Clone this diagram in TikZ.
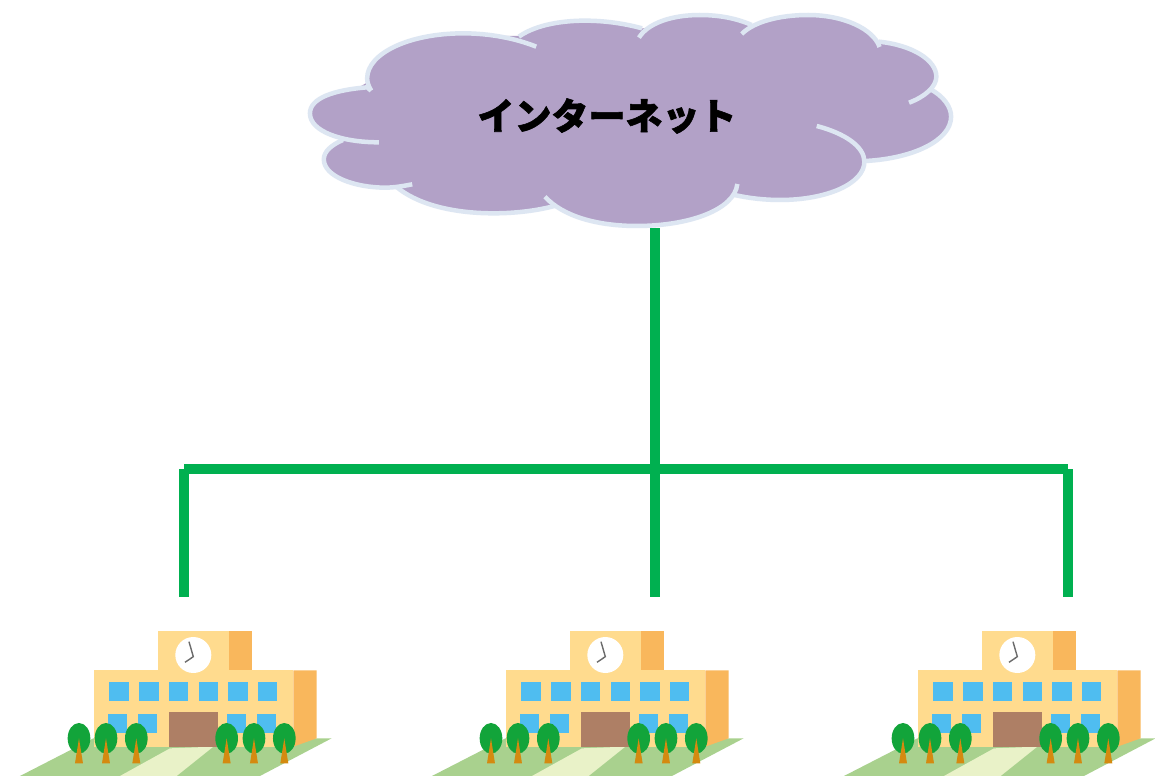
\documentclass[tikz,border=0pt]{standalone}
\usepackage{fontspec}
\newfontfamily\cjk[FakeBold=1.5]{Noto Sans CJK JP Black}
\definecolor{cloudfill}{HTML}{B2A1C7}
\definecolor{cloudline}{HTML}{DDE6F2}
\definecolor{wire}{HTML}{00B050}
\definecolor{ground}{HTML}{A9D18E}
\definecolor{pathc}{HTML}{E9F2C8}
\definecolor{wall}{HTML}{FFDB8E}
\definecolor{sidewall}{HTML}{F9B75C}
\definecolor{glass}{HTML}{4FBDF0}
\definecolor{doorc}{HTML}{AE7F65}
\definecolor{leaf}{HTML}{12A43A}
\definecolor{trunk}{HTML}{D48A10}
\definecolor{hand}{HTML}{6B6B6B}
\tikzset{
  arcline/.style={draw=cloudline,line width=4.5pt,line cap=butt},
  lobefill/.style={fill=cloudfill,draw=cloudfill,line width=1.5pt},
  wireline/.style={draw=wire,line width=10pt,line cap=butt},
  pane/.style={fill=glass},
}
\newcommand{\lobes}[1]{%
  \path[#1] (187,272) -- (178,262) .. controls (100,270) and (46,295) .. (46,340) .. controls (46,395) and (120,427) .. (205,427);
  \path[#1] (122,420) .. controls (95,435) and (78,455) .. (78,478) .. controls (78,530) and (150,563) .. (220,563) .. controls (240,563) and (262,558) .. (282,553);
  \path[#1] (245,560) .. controls (290,610) and (370,640) .. (470,640) .. controls (520,640) and (570,632) .. (610,618);
  \path[#1] (588,590) .. controls (630,650) and (710,678) .. (800,678) .. controls (920,678) and (1025,630) .. (1032,552);
  \path[#1] (1025,585) .. controls (1060,595) and (1095,600) .. (1130,600) .. controls (1240,600) and (1325,550) .. (1325,485) .. controls (1325,440) and (1280,400) .. (1215,378);
  \path[#1] (1328,483) .. controls (1440,475) and (1525,420) .. (1525,350) .. controls (1525,320) and (1508,290) .. (1478,268);
  \path[#1] (1428,308) .. controls (1465,290) and (1491,260) .. (1491,230) .. controls (1491,180) and (1435,135) .. (1358,125);
  \path[#1] (1360,141) .. controls (1345,85) and (1275,45) .. (1195,45) .. controls (1130,45) and (1070,65) .. (1042,102);
  \path[#1] (1065,75) .. controls (1030,55) and (990,45) .. (945,45) .. controls (880,45) and (825,70) .. (805,113);
  \path[#1] (812,85) .. controls (770,70) and (725,62) .. (680,62) .. controls (615,62) and (560,80) .. (528,110);
  \path[#1] (568,140) .. controls (520,115) and (460,100) .. (400,100) .. controls (275,100) and (178,160) .. (178,235) .. controls (178,245) and (180,255) .. (187,272);
}
\newcommand{\schoolat}[1]{%
\begin{scope}[shift={(#1,610)},x=0.3333pt,y=-0.3333pt]
  \fill[ground] (60,498) -- (280,385) -- (995,385) -- (780,498) -- cycle;
  \fill[pathc] (360,498) -- (510,415) -- (640,410) -- (530,498) -- cycle;
  \fill[wall] (282,181) rectangle (880,410);
  \fill[sidewall] (880,181) -- (950,181) -- (950,385) -- (880,410) -- cycle;
  \fill[wall] (475,63) rectangle (687,181);
  \fill[sidewall] (687,63) rectangle (757,181);
  \fill[white] (580,135) circle[x radius=54,y radius=54];
  \draw[hand,line width=1.4pt] (567,95) -- (580,140) -- (555,157);
  \foreach \wx in {328,418,507,596,685,774}
    \fill[pane] (\wx,215) rectangle +(58,57);
  \foreach \wx in {324,414,680,770}
    \fill[pane] (\wx,312) rectangle +(58,58);
  \fill[doorc] (506,305) rectangle (654,410);
  \foreach \tx in {237,318,409,680,762,853}{
    \fill[leaf] (\tx,385) ellipse[x radius=34,y radius=46];
    \fill[trunk] (\tx,385) -- (\tx+12,460) -- (\tx-12,460) -- cycle;
  }
\end{scope}}
\begin{document}
\begin{tikzpicture}[x=1pt,y=-1pt]
\useasboundingbox (0,0) rectangle (1155,776);
\fill[white] (0,0) rectangle (1155,776);
\begin{scope}[shift={(290,0)},x=0.4335pt,y=-0.3333pt]
  \lobes{lobefill}
  \path[lobefill] (178,250) -- (60,340) -- (125,418) -- (90,478) -- (245,558) -- (470,630) -- (600,615) -- (800,670) -- (1025,588) -- (1130,590) -- (1325,485) -- (1515,350) -- (1478,268) -- (1480,230) -- (1358,128) -- (1195,55) -- (1065,78) -- (945,55) -- (812,88) -- (680,72) -- (530,110) -- (400,110) -- cycle;
  \lobes{arcline}
\end{scope}
\node[inner sep=0pt,font=\cjk\fontsize{37}{37}\selectfont] (net) at (607,116) {インターネット};
\coordinate (cloudbottom) at (655,228);
\coordinate (busL) at (184,468.5);
\coordinate (busC) at (655,468.5);
\coordinate (busR) at (1068,468.5);
\coordinate (schoolL) at (184,597);
\coordinate (schoolC) at (655,597);
\coordinate (schoolR) at (1068,597);
\draw[wireline] (cloudbottom) -- (schoolC);
\draw[wireline] (busL) -- (busC) -- (busR);
\draw[wireline] (busL |- 0,469) -- (schoolL);
\draw[wireline] (busR |- 0,469) -- (schoolR);
\schoolat{0}
\schoolat{412}
\schoolat{824}
\end{tikzpicture}
\end{document}
